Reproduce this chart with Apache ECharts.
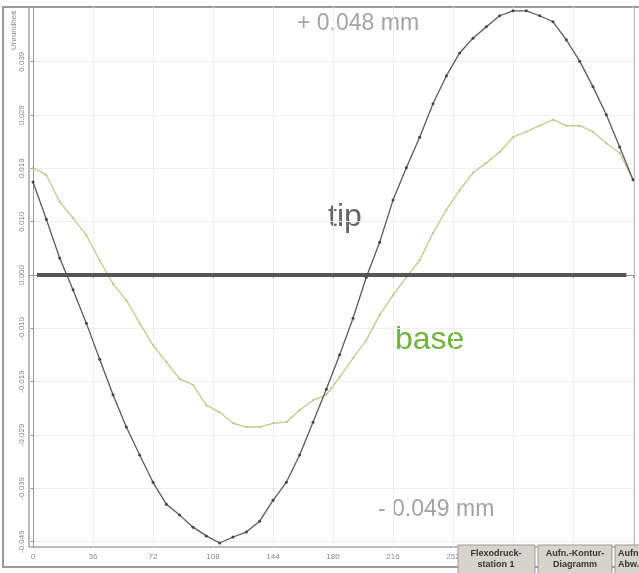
<!DOCTYPE html>
<html>
<head>
<meta charset="utf-8">
<style>
  html, body { margin: 0; padding: 0; background: #fff; }
  #chart { width: 639px; height: 573px; }
</style>
<script src="https://cdn.jsdelivr.net/npm/echarts@6/dist/echarts.min.js"></script>
</head>
<body>
<div id="chart"></div>
<script>
// angle in degrees, sampled every 8
const angles = [0, 8, 16, 24, 32, 40, 48, 56, 64, 72, 80, 88, 96, 104, 112, 120, 128, 136, 144, 152, 160, 168, 176, 184,
  192, 200, 208, 216, 224, 232, 240, 248, 256, 264, 272, 280, 288, 296, 304, 312, 320, 328, 336, 344, 352, 360]

// deviation in mm
const tip = [0.0170, 0.0102, 0.0031, -0.0027, -0.0088, -0.0154, -0.0219, -0.0278, -0.0329, -0.0379, -0.0419, -0.0439,
  -0.0461, -0.0477, -0.0490, -0.0479, -0.0470, -0.0450, -0.0412, -0.0379, -0.0329, -0.0269, -0.0209, -0.0146,
  -0.0079, -0.0004, 0.0060, 0.0137, 0.0196, 0.0252, 0.0313, 0.0364, 0.0406, 0.0433, 0.0454, 0.0474,
  0.0483, 0.0483, 0.0474, 0.0463, 0.0430, 0.0391, 0.0344, 0.0293, 0.0234, 0.0174]

const base = [0.0196, 0.0183, 0.0134, 0.0104, 0.0073, 0.0027, -0.0016, -0.0046, -0.0088, -0.0128, -0.0159, -0.0190,
  -0.0201, -0.0238, -0.0251, -0.0271, -0.0278, -0.0278, -0.0271, -0.0269, -0.0247, -0.0229, -0.0219, -0.0187,
  -0.0152, -0.0119, -0.0073, -0.0037, -0.0004, 0.0027, 0.0077, 0.0119, 0.0155, 0.0187, 0.0205, 0.0225,
  0.0252, 0.0262, 0.0273, 0.0284, 0.0273, 0.0273, 0.0262, 0.0241, 0.0223, 0.0174]

const xTicks = [0, 36, 72, 108, 144, 180, 216, 252, 288, 324, 360]
const yTicks = [-0.04875, -0.039, -0.02925, -0.0195, -0.00975, 0, 0.00975, 0.0195, 0.02925, 0.039]
const yTickLabels = ['-0.049', '-0.039', '-0.029', '-0.019', '-0.010', '0.000', '0.010', '0.019', '0.029', '0.039']

const chart = echarts.init(document.getElementById('chart'))

function yLabel (v) {
  const i = yTicks.findIndex(t => Math.abs(t - v) < 1e-7)
  return i >= 0 ? yTickLabels[i] : ''
}

const btnText = { fill: '#333', font: 'bold 9px "Liberation Sans"', textVerticalAlign: 'middle', lineHeight: 11 }

const option = {
  animation: false,
  backgroundColor: '#fff',
  grid: {
    left: 29,
    top: 7,
    right: 5,
    bottom: 26,
    show: true,
    borderColor: '#777',
    borderWidth: 1,
  },
  xAxis: {
    type: 'value',
    min: -2.4,
    max: 360.6,
    axisLine: { lineStyle: { color: '#999' } },
    axisTick: { customValues: xTicks, length: 3, lineStyle: { color: '#999' } },
    axisLabel: {
      customValues: xTicks.slice(0, 8),
      color: '#888',
      fontSize: 8,
      fontFamily: 'Liberation Sans',
      margin: 6,
    },
    splitLine: { show: true, lineStyle: { color: '#eeeeee' } },
  },
  yAxis: {
    type: 'value',
    min: -0.04973,
    max: 0.049,
    axisLine: { show: true, lineStyle: { color: '#999' } },
    axisTick: { show: true, customValues: yTicks, length: 3, lineStyle: { color: '#999' } },
    axisLabel: {
      customValues: yTicks,
      formatter: yLabel,
      rotate: 90,
      color: '#888',
      fontSize: 8,
      fontFamily: 'Liberation Sans',
      margin: 3,
    },
    splitLine: { show: true, lineStyle: { color: '#eeeeee' } },
  },
  series: [
    {
      name: 'base',
      type: 'line',
      data: angles.map((a, i) => [a, base[i]]),
      symbol: 'circle',
      symbolSize: 2,
      lineStyle: { color: '#bfcf92', width: 1.4 },
      itemStyle: { color: '#b0c282' },
      z: 3,
    },
    {
      name: 'tip',
      type: 'line',
      data: angles.map((a, i) => [a, tip[i]]),
      symbol: 'circle',
      symbolSize: 3,
      lineStyle: { color: '#5a5a5a', width: 1.3 },
      itemStyle: { color: '#444' },
      z: 4,
      markLine: {
        silent: true,
        symbol: 'none',
        label: { show: false },
        lineStyle: { color: '#555', width: 4, type: 'solid' },
        data: [[{ coord: [2.4, 0] }, { coord: [356, 0] }]],
      },
    },
  ],
  graphic: [
    {
      type: 'rect',
      shape: { x: 3, y: 7, width: 640, height: 560 },
      style: { fill: 'none', stroke: '#999', lineWidth: 2 },
      silent: true,
    },
    {
      type: 'text',
      x: 14,
      y: 50,
      rotation: Math.PI / 2,
      style: { text: 'Unrundheit', fill: '#888', font: '8px "Liberation Sans"', textAlign: 'left', textVerticalAlign: 'middle' },
    },
    { type: 'text', left: 297, top: 12, style: { text: '+ 0.048 mm', fill: '#a3a3a3', font: '23px "Liberation Sans"' } },
    { type: 'text', left: 378, top: 498, style: { text: '- 0.049 mm', fill: '#a3a3a3', font: '23px "Liberation Sans"' } },
    { type: 'text', left: 328, top: 201, style: { text: 'tip', fill: '#666', font: '32px "Liberation Sans"' } },
    { type: 'text', left: 395, top: 324, style: { text: 'base', fill: '#6fb23e', font: '32px "Liberation Sans"' } },
    { type: 'rect', z: 100, shape: { x: 458, y: 545, width: 77, height: 30 }, style: { fill: '#d6d3cc', stroke: '#999', lineWidth: 1 } },
    { type: 'text', z: 101, x: 496, y: 559, style: Object.assign({ text: 'Flexodruck-\nstation 1', textAlign: 'center' }, btnText) },
    { type: 'rect', z: 100, shape: { x: 538, y: 545, width: 74, height: 30 }, style: { fill: '#d6d3cc', stroke: '#999', lineWidth: 1 } },
    { type: 'text', z: 101, x: 575, y: 559, style: Object.assign({ text: 'Aufn.-Kontur-\nDiagramm', textAlign: 'center' }, btnText) },
    { type: 'rect', z: 100, shape: { x: 615, y: 545, width: 40, height: 30 }, style: { fill: '#d6d3cc', stroke: '#999', lineWidth: 1 } },
    { type: 'text', z: 101, x: 618, y: 559, style: Object.assign({ text: 'Aufn.-\nAbw.', textAlign: 'left' }, btnText) },
  ],
}

chart.setOption(option)
</script>
</body>
</html>
